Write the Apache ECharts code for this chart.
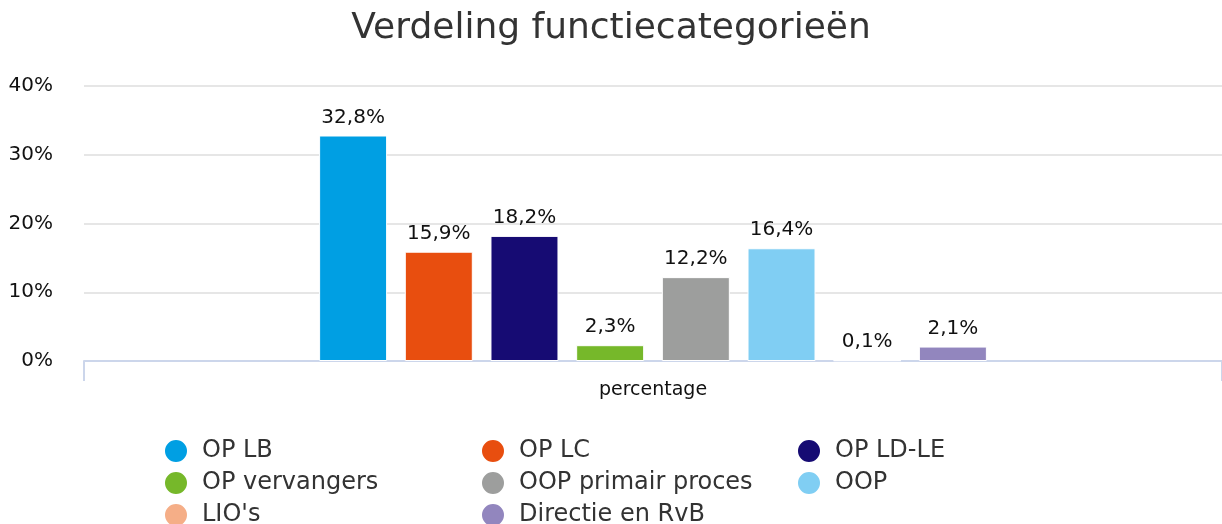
<!DOCTYPE html>
<html>
<head>
<meta charset="utf-8">
<title>Verdeling functiecategorieën</title>
<script src="https://cdn.jsdelivr.net/npm/echarts@6/dist/echarts.min.js"></script>
<style>
  html, body { margin: 0; padding: 0; background: #fff; }
  #chart { width: 1222px; height: 524px; }
</style>
</head>
<body>
<div id="chart"></div>
<script>
// data
var categories = ['percentage'];
var seriesNames = ['OP LB', 'OP LC', 'OP LD-LE', 'OP vervangers', 'OOP primair proces', 'OOP', "LIO's", 'Directie en RvB'];
var seriesValues = [32.8, 15.9, 18.2, 2.3, 12.2, 16.4, 0.1, 2.1];
var seriesColors = ['#009fe3', '#e84e0f', '#160b73', '#76b82a', '#9d9e9d', '#80cef3', '#f5ae87', '#9286be'];
var yTicks = [0, 10, 20, 30, 40];

// legend columns (3 columns, like the original)
var legendCols = [
    ['OP LB', 'OP vervangers', "LIO's"],
    ['OP LC', 'OOP primair proces', 'Directie en RvB'],
    ['OP LD-LE', 'OOP']
];
var legendLeft = [163, 480, 796];

var font = 'DejaVu Sans';

var chart = echarts.init(document.getElementById('chart'));

var series = seriesNames.map(function (name, i) {
    return {
        name: name,
        type: 'bar',
        data: [seriesValues[i]],
        barWidth: 68,
        barGap: '26%',
        itemStyle: {
            color: seriesColors[i],
            borderColor: '#fff',
            borderWidth: 1
        },
        label: {
            show: true,
            position: 'top',
            distance: 8,
            color: '#111',
            fontFamily: font,
            fontSize: 20,
            formatter: function (p) {
                return String(p.value).replace('.', ',') + '%';
            }
        }
    };
});

var legends = legendCols.map(function (col, i) {
    return {
        orient: 'vertical',
        left: legendLeft[i],
        top: 438,
        height: 90,
        padding: 0,
        itemWidth: 42,
        itemHeight: 24,
        itemGap: 6,
        icon: 'circle',
        selectedMode: false,
        data: col,
        textStyle: {
            color: '#333',
            fontFamily: font,
            fontSize: 24,
            lineHeight: 24
        }
    };
});

chart.setOption({
    color: seriesColors,
    animation: false,
    title: {
        text: 'Verdeling functiecategorieën',
        left: 'center',
        top: 6,
        textStyle: {
            color: '#333',
            fontFamily: font,
            fontSize: 36,
            fontWeight: 'normal'
        }
    },
    legend: legends,
    grid: {
        left: 84,
        right: 0,
        top: 86,
        bottom: 163,
        outerBoundsMode: 'none'
    },
    xAxis: {
        type: 'category',
        data: categories,
        axisLine: { lineStyle: { color: '#ccd6eb', width: 2 } },
        axisTick: {
            show: true,
            length: 20,
            // only the left boundary tick, as in the original
            interval: function (index) { return index === 0; },
            lineStyle: { color: '#ccd6eb', width: 2 }
        },
        axisLabel: {
            color: '#111',
            fontFamily: font,
            fontSize: 19,
            margin: 20
        }
    },
    yAxis: {
        type: 'value',
        min: yTicks[0],
        max: yTicks[yTicks.length - 1],
        interval: 10,
        axisLine: { show: false },
        axisTick: { show: false },
        splitLine: { lineStyle: { color: '#e6e6e6', width: 2 } },
        axisLabel: {
            color: '#111',
            fontFamily: font,
            fontSize: 20,
            margin: 31,
            formatter: '{value}%'
        }
    },
    series: series
});
</script>
</body>
</html>
